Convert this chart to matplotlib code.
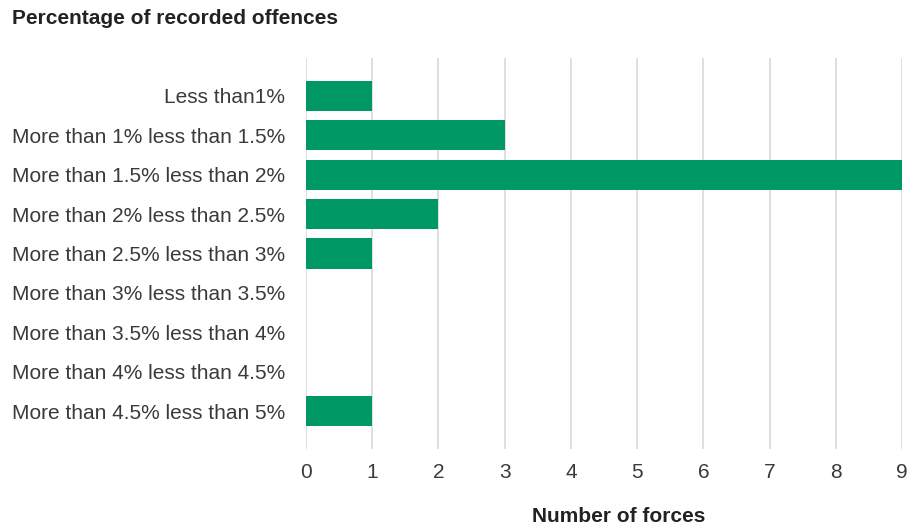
import matplotlib
matplotlib.use("Agg")
import matplotlib.pyplot as plt

categories = [
    "Less than1%",
    "More than 1% less than 1.5%",
    "More than 1.5% less than 2%",
    "More than 2% less than 2.5%",
    "More than 2.5% less than 3%",
    "More than 3% less than 3.5%",
    "More than 3.5% less than 4%",
    "More than 4% less than 4.5%",
    "More than 4.5% less than 5%",
]
forces = [1, 3, 9, 2, 1, 0, 0, 0, 1]
x_ticks = list(range(0, 10))

plt.rcParams['font.family'] = ['Liberation Sans', 'DejaVu Sans']

W, H = 909, 526
fig = plt.figure(figsize=(W / 100, H / 100), dpi=100)
ax = fig.add_axes([306 / W, 1 - 449 / H, (902 - 306) / W, (449 - 58) / H])

y = list(range(len(categories)))
ax.barh(y, forces, height=0.76, color="#009966", zorder=3)

ax.set_ylim(len(categories) - 0.05, -0.95)
ax.set_xlim(0, 9)
ax.set_xticks(x_ticks)
ax.set_xticklabels([str(t) for t in x_ticks])
ax.set_yticks(y)
ax.set_yticklabels(categories)

ax.grid(axis="x", color="#d9d9d9", linewidth=1.2, zorder=0)
ax.grid(axis="y", visible=False)
for s in ax.spines.values():
    s.set_visible(False)
ax.tick_params(axis="both", length=0, labelsize=15, colors="#3a3a3a")
ax.tick_params(axis="x", pad=10)
ax.tick_params(axis="y", pad=15)

fig.text(12 / W, 1 - 19 / H, "Percentage of recorded offences", fontsize=15,
         fontweight="bold", color="#222222", ha="left", va="center")
fig.text(619 / W, 1 - 516 / H, "Number of forces", fontsize=15,
         fontweight="bold", color="#222222", ha="center", va="center")

fig.savefig("out.png", dpi=100, facecolor="white")
